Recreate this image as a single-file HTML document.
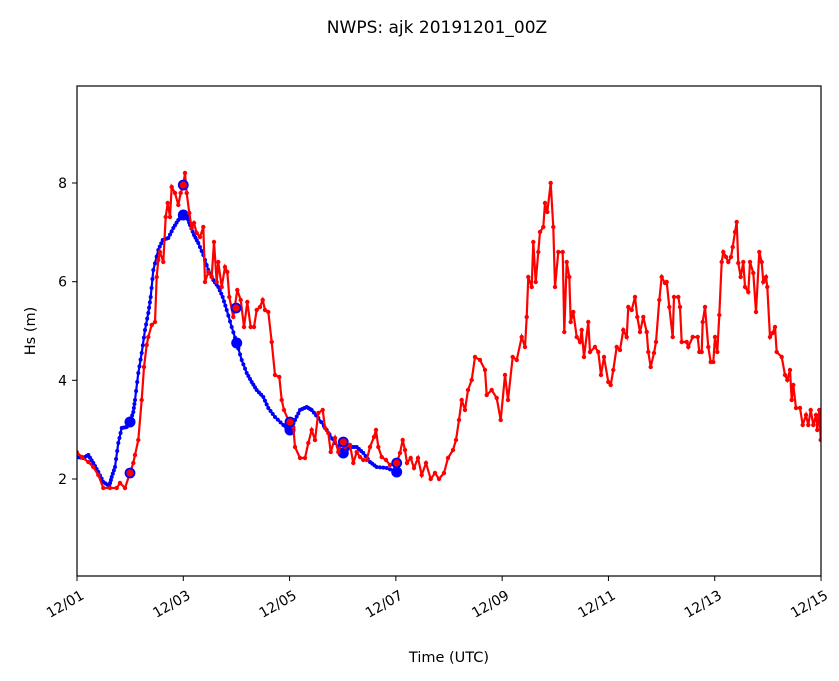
<!DOCTYPE html>
<html><head><meta charset="utf-8"><style>
html,body{margin:0;padding:0;background:#fff;}
svg{display:block;font-family:"DejaVu Sans","Liberation Sans",sans-serif;}
</style></head><body>
<svg id="s" width="839" height="681" viewBox="0 0 839 681" xmlns="http://www.w3.org/2000/svg">
<rect width="839" height="681" fill="#fff"/>
<text x="437" y="33" font-size="17" text-anchor="middle">NWPS: ajk 20191201_00Z</text>
<defs><clipPath id="c"><rect x="77" y="86" width="744" height="490"/></clipPath></defs>
<g id="plot" clip-path="url(#c)"></g>
<rect x="77" y="86" width="744" height="490" fill="none" stroke="#000" stroke-width="1.2"/>
<g id="ax" font-size="14"></g>
<text x="449" y="662" font-size="14.5" text-anchor="middle">Time (UTC)</text>
<text transform="translate(35,331) rotate(-90)" font-size="14.5" text-anchor="middle">Hs (m)</text>
</svg>
<script>
var NS="http://www.w3.org/2000/svg";
function el(p,t,a){var e=document.createElementNS(NS,t);for(var k in a)e.setAttribute(k,a[k]);p.appendChild(e);return e;}
var red=[[76.7,452],[81.7,457],[88.3,462],[93.3,467],[98.3,475],[103.3,488],[110,488],[116.7,488],[120,483],[125,488],[130,473],[133.3,463],[135,455],[138.3,440],[141.7,400],[144,367],[146.7,345],[148.3,337],[151.7,325],[155,322],[156.7,277],[158.3,260],[160,252],[163.3,262],[165.7,217],[167.7,203],[170,217],[171.7,187],[175,193],[178.3,205],[180.7,193],[183.3,185],[185,173],[186.7,193],[189.3,213],[191.7,228],[194,223],[196.7,233],[200,237],[203.3,227],[205,282],[208.3,272],[211.7,277],[214,242],[216.7,282],[218.3,262],[221.7,287],[225,267],[227.3,272],[229.3,297],[233.3,317],[237.3,290],[240.7,300],[244,327],[247.3,302],[250.7,327],[254,327],[256.7,310],[260,307],[262.7,300],[265,310],[268.3,312],[271.7,342],[275,375],[279.3,377],[281.7,400],[284,410],[288.3,420],[293.3,427],[295,447],[300,458],[305,458],[308.3,443],[311.7,430],[315,440],[318.3,413],[322.7,410],[325,428],[328.3,433],[330.7,452],[335,438],[338.3,452],[341.7,442],[345,447],[350,445],[353.3,463],[356.7,452],[360,457],[363.3,460],[366.7,460],[370,447],[374,437],[376,430],[378.3,447],[381.7,457],[386,460],[390,465],[396.7,463],[400,453],[402.7,440],[405,450],[407,463],[410.7,458],[414,468],[418,458],[421.7,475],[426,463],[430.7,479],[435,473],[439,479],[444,473],[448,458],[453,450],[456,440],[459,420],[461.7,400],[465,410],[468,390],[471.7,380],[475,357],[480,360],[485,370],[486.7,395],[491.7,390],[496.7,398],[500.7,420],[505,375],[508,400],[512.7,357],[516.7,360],[521.7,337],[525,347],[526.7,317],[528.3,277],[531.7,287],[533.3,242],[535.7,282],[538.3,252],[540,232],[543.3,227],[545,203],[547.3,212],[550.7,183],[553.3,227],[555,287],[558.3,252],[562.7,252],[564.3,332],[566.7,262],[569.3,277],[570.7,322],[573.3,312],[576.7,337],[580,342],[581.7,330],[584,357],[588.3,322],[590,352],[595,347],[598.3,352],[601,375],[604,357],[608.3,382],[610.7,385],[613.3,370],[616.7,347],[620,350],[623.3,330],[626.7,337],[628.3,307],[631.7,310],[635,297],[637.3,317],[640,332],[643.3,317],[646.7,332],[648.3,352],[650.7,367],[654,353],[656,342],[659.3,300],[661.7,277],[665,283],[666.7,282],[669.3,307],[672.7,337],[674,297],[678.3,297],[680,307],[681.7,342],[686.7,342],[688.3,347],[692.7,337],[697.7,337],[699.3,352],[701.7,352],[702.7,322],[705,307],[708.3,347],[710.7,362],[713.3,362],[715,337],[717.3,352],[719.3,315],[721.7,262],[723.3,252],[726,257],[728.3,262],[731,257],[732.7,247],[735,232],[736.7,222],[738.3,263],[740.7,277],[743.3,262],[745,287],[748.3,292],[750,262],[753.3,273],[756,312],[759.3,252],[761.7,262],[763.3,282],[766,277],[767.3,287],[770,337],[772.7,333],[775,327],[776.7,352],[781.7,357],[785,375],[787.3,380],[790,370],[791.7,400],[793.3,385],[796,408],[800,408],[802.7,425],[806,415],[808.3,425],[810.7,410],[813.3,425],[816,415],[817.3,430],[819.3,410],[820.7,440]];
var blue=[[76.7,457],[83.3,458],[88.3,455],[93.3,463],[98.3,472],[103.3,482],[109.3,486],[111.7,477],[115,467],[118.3,443],[121.7,428],[126.7,427],[130,422],[133.3,412],[135,400],[138.3,373],[141.7,353],[145,330],[148.3,313],[150.7,297],[153.3,270],[158.3,250],[162.7,240],[168.3,238],[173.3,228],[178.3,220],[183.3,215],[187.3,217],[190,225],[194,235],[198.3,243],[203.3,255],[208.3,270],[213.3,280],[218.3,287],[222.7,297],[226.7,310],[231.7,327],[236.7,343],[241.7,360],[246.7,373],[251.7,382],[256.7,390],[263.3,397],[268.3,408],[275,417],[283.3,425],[290,430],[295,420],[300,410],[306.7,407],[311.7,410],[318.3,418],[326.7,430],[335,443],[343.3,453],[350,447],[356.7,447],[363.3,453],[370,462],[376.7,467],[386.7,468],[396.7,472]];
var g=document.getElementById('plot');
var bd=[];for(var i=0;i<blue.length-1;i++){for(var t=0;t<3;t++){var f=t/3;bd.push([blue[i][0]+(blue[i+1][0]-blue[i][0])*f,blue[i][1]+(blue[i+1][1]-blue[i][1])*f]);}}bd.push(blue[blue.length-1]);
el(g,'polyline',{points:bd.map(p=>p.join(',')).join(' '),fill:'none',stroke:'#0000ff','stroke-width':2.2});
bd.forEach(p=>el(g,'circle',{cx:p[0],cy:p[1],r:2,fill:'#0000ff'}));
[[130,422],[183.3,215],[236.7,343],[290,430],[343.3,453],[396.7,472]].forEach(p=>el(g,'circle',{cx:p[0],cy:p[1],r:5.5,fill:'#0000ff'}));
el(g,'polyline',{points:red.map(p=>p.join(',')).join(' '),fill:'none',stroke:'#ff0000','stroke-width':2.2});
red.forEach(p=>el(g,'circle',{cx:p[0],cy:p[1],r:2.2,fill:'#ff0000'}));
[[130,473],[183.3,185],[236,308],[290,422],[343.3,442],[396.7,463]].forEach(p=>el(g,'circle',{cx:p[0],cy:p[1],r:4.5,fill:'#ff0000',stroke:'#0000ff','stroke-width':1.8}));
var ax=document.getElementById('ax');
var labs=['12/01','12/03','12/05','12/07','12/09','12/11','12/13','12/15'];
labs.forEach(function(l,i){var x=77+i*106.29;el(ax,'line',{x1:x,y1:576,x2:x,y2:581,stroke:'#000','stroke-width':1});
var t=el(ax,'text',{'text-anchor':'end',transform:'translate('+(x+8)+',598) rotate(-30)'});t.textContent=l;});
[[2,479],[4,380.3],[6,281.7],[8,183]].forEach(function(v){el(ax,'line',{x1:72,y1:v[1],x2:77,y2:v[1],stroke:'#000','stroke-width':1});
var t=el(ax,'text',{x:67,y:v[1]+5,'text-anchor':'end'});t.textContent=v[0];});
</script>
</body></html>
